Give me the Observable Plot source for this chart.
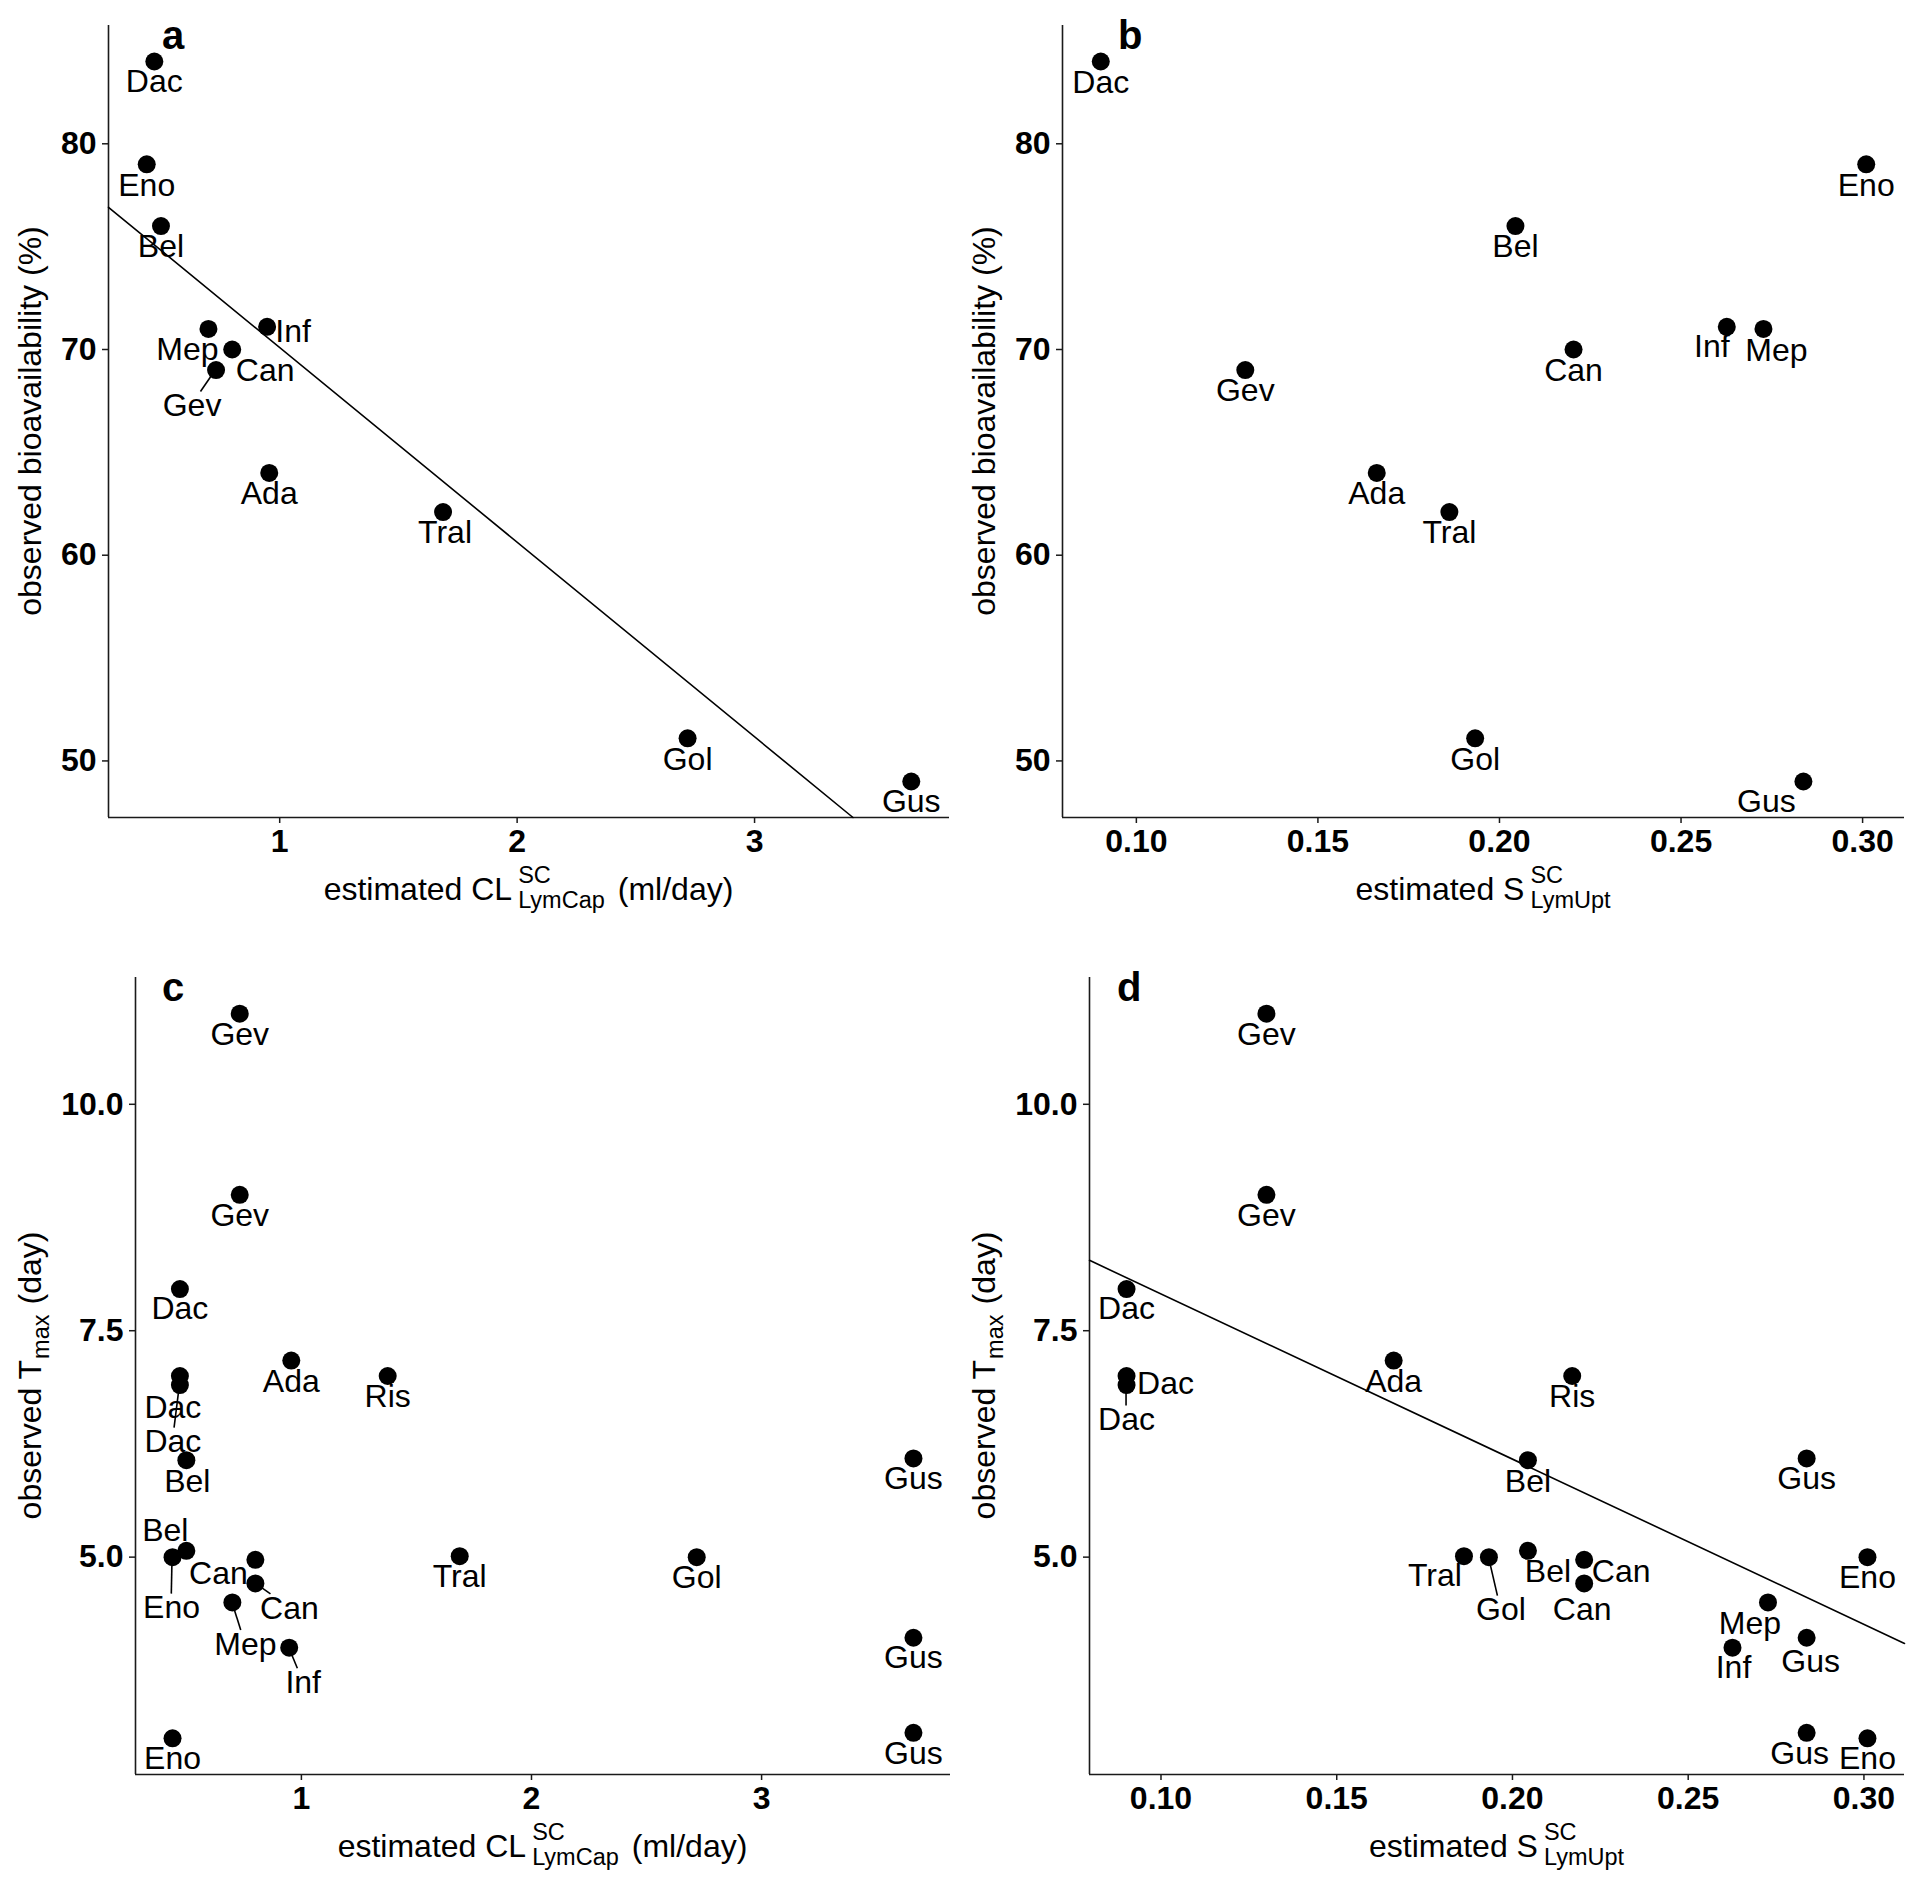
<!DOCTYPE html>
<html><head><meta charset="utf-8">
<script src="https://cdn.jsdelivr.net/npm/d3@7"></script>
<script src="https://cdn.jsdelivr.net/npm/@observablehq/plot@0.6"></script>
<style>
html,body{margin:0;padding:0;background:#fff;}
#fig{position:relative;width:1920px;height:1886px;background:#fff;overflow:hidden;}
#fig > div{position:absolute;}
#fig svg{display:block;}
g[aria-label$="tick label"]{font-weight:bold;}
</style></head><body><div id="fig"></div>
<script>
const FONT = "'Liberation Sans', Arial, Helvetica, sans-serif";

// ---- per-drug estimates ----
const drugNames = ["Ada","Bel","Can","Dac","Eno","Gev","Gol","Gus","Inf","Mep","Ris","Tral"];
const clLymCap  = [0.956, 0.50, 0.80, 0.472, 0.44, 0.732, 2.718, 3.66, 0.947, 0.70, 1.375, 1.688];
const sLymUpt   = [0.1662, 0.2044, 0.2204, 0.0902, 0.301, 0.1300, 0.1933, 0.2837, 0.2626, 0.2727, 0.2170, 0.1862];

// ---- observed bioavailability (%) ----
const bioDrugs = ["Dac","Eno","Bel","Mep","Inf","Can","Gev","Ada","Tral","Gol","Gus"];
const bioavailability = [84, 79, 76, 71, 71.1, 70, 69, 64, 62.1, 51.1, 49];

// ---- observed Tmax (day) ----
const tmaxDrugs = ["Gev","Gev","Dac","Ada","Dac","Dac","Ris","Bel","Gus","Bel","Eno","Can","Can","Tral","Gol","Mep","Inf","Gus","Eno","Gus"];
const tmaxValues = [11, 9, 7.96, 7.17, 7.0, 6.9, 7.0, 6.07, 6.09, 5.07, 5.0, 4.97, 4.71, 5.01, 5.0, 4.5, 4.0, 4.11, 3.0, 3.06];

// ---- tick values ----
const clTicks = [1, 2, 3];
const sTicks = [0.10, 0.15, 0.20, 0.25, 0.30];
const bioTicks = [50, 60, 70, 80];
const tmaxTicks = [5.0, 7.5, 10.0];

// ---- fitted line in panel d ----
const tmaxFitIntercept = 9.73;
const tmaxFitSlope = -18.24;

// ---- label nudges in px (repelled label layout): [dx, dy, hasSegment] ----
const nudgeA = [[0,20],[0,21],[0,21],[-21,21],[26,5],[33,21],[-24,36,1],[0,21],[2,21],[0,21],[0,20]];
const nudgeB = [[0,21],[0,21],[0,21],[13,22],[-15,20],[0,21],[0,21],[0,21],[0,21],[0,21],[-37,20]];
const nudgeC = [[0,21],[0,21],[0,20],[0,21],[-7,32],[-7,57,1],[0,21],[1,22],[0,20],[-21,-20],[-1,51,1],[-37,14],[34,25,1],[0,21],[0,21],[13,42,1],[14,35,1],[0,20],[0,20],[0,21]];
const nudgeD = [[0,21],[0,21],[0,20],[0,21],[39,8],[0,35,1],[0,21],[0,22],[0,20],[20,21],[0,21],[37,12],[-2,26],[-29,20],[12,53,1],[-18,21],[1,20],[4,24],[0,20],[-7,21]];

// ---- tables ----
const clOf = new Map(drugNames.map((d,i)=>[d, clLymCap[i]]));
const sOf = new Map(drugNames.map((d,i)=>[d, sLymUpt[i]]));
const bioTable = bioDrugs.map((d,i)=>({drug:d, cl:clOf.get(d), s:sOf.get(d), y:bioavailability[i]}));
const tmaxTable = tmaxDrugs.map((d,i)=>({drug:d, cl:clOf.get(d), s:sOf.get(d), y:tmaxValues[i]}));

function expand(vals){ const [a,b]=d3.extent(vals); const r=b-a; return [a-0.05*r, b+0.05*r]; }
function ols(xs, ys){
  const mx=d3.mean(xs), my=d3.mean(ys); let sxy=0, sxx=0;
  xs.forEach((x,i)=>{ sxy+=(x-mx)*(ys[i]-my); sxx+=(x-mx)*(x-mx); });
  const b=sxy/sxx; return [my-b*mx, b];
}
function fitPoints(b0, b1, xd, yd){
  let x0=xd[0], x1=xd[1];
  const xa=(yd[0]-b0)/b1, xb=(yd[1]-b0)/b1;
  const lo=Math.min(xa,xb), hi=Math.max(xa,xb);
  x0=Math.max(x0,lo); x1=Math.min(x1,hi);
  return [x0,x1].map(x=>({x, y:b0+b1*x}));
}

const LABEL_SIZE = 32, TICK_SIZE = 32, TITLE_SIZE = 32, SUB_SIZE = 23.5;
const fig = document.getElementById("fig");
const ctx = document.createElement("canvas").getContext("2d");
ctx.font = LABEL_SIZE + "px " + FONT;

function panel(cfg){
  const xd = expand(cfg.table.map(d=>d[cfg.xKey]));
  const yd = expand(cfg.table.map(d=>d.y));
  const axisCol = "#1a1a1a";
  const marks = [
    Plot.ruleX([xd[0]], {stroke:axisCol, strokeWidth:1.6}),
    Plot.ruleY([yd[0]], {stroke:axisCol, strokeWidth:1.6}),
    Plot.axisX(cfg.xTicks, {tickFormat:cfg.xFormat, tickSize:6, tickPadding:6, label:null, fontSize:TICK_SIZE, fontWeight:"bold", stroke:axisCol, strokeWidth:1.5, fill:"black"}),
    Plot.axisY(cfg.yTicks, {tickFormat:cfg.yFormat, tickSize:6, tickPadding:6, label:null, fontSize:TICK_SIZE, fontWeight:"bold", stroke:axisCol, strokeWidth:1.5, fill:"black"})
  ];
  if (cfg.fit){
    const [b0,b1] = cfg.fit;
    marks.push(Plot.line(fitPoints(b0,b1,xd,yd), {x:"x", y:"y", stroke:"black", strokeWidth:1.6}));
  }
  marks.push(Plot.dot(cfg.table, {x:cfg.xKey, y:"y", r:9, fill:"black"}));
  cfg.table.forEach((d,i)=>{
    const [dx,dy] = cfg.nudges[i];
    marks.push(Plot.text([d], {x:cfg.xKey, y:"y", text:"drug", dx, dy, fontSize:LABEL_SIZE, fill:"black"}));
  });
  const plot = Plot.plot({
    width:960, height:943,
    marginLeft:cfg.m[0], marginRight:cfg.m[1], marginTop:cfg.m[2], marginBottom:cfg.m[3],
    x:{domain:xd}, y:{domain:yd},
    style:{fontFamily:FONT, fontSize:"31px", color:"black", background:"white", overflow:"visible"},
    marks
  });
  const holder = document.createElement("div");
  holder.style.left = cfg.left+"px"; holder.style.top = cfg.top+"px";
  holder.appendChild(plot); fig.appendChild(holder);
  const svg = d3.select(plot);
  const sx = plot.scale("x"), sy = plot.scale("y");

  // connector segments for displaced labels
  const segG = svg.append("g").attr("stroke","black").attr("stroke-width",1.6);
  cfg.table.forEach((d,i)=>{
    const n = cfg.nudges[i]; if (!n[2]) return;
    const px = sx.apply(d[cfg.xKey]), py = sy.apply(d.y);
    const cx = px+n[0], cy = py+n[1]-1;
    const hw = ctx.measureText(d.drug).width/2+2, hh = 13;
    const vx = px-cx, vy = py-cy;
    const t = Math.min(hw/Math.max(Math.abs(vx),1e-6), hh/Math.max(Math.abs(vy),1e-6));
    segG.append("line").attr("x1",px).attr("y1",py).attr("x2",cx+vx*t).attr("y2",cy+vy*t);
  });

  // panel letter
  svg.append("text").attr("x",cfg.letterPos[0]).attr("y",cfg.letterPos[1]).attr("text-anchor","start")
    .attr("font-family",FONT).attr("font-size",40).attr("font-weight","bold").attr("fill","black").text(cfg.letter);

  // x title with stacked super/subscript
  const plotCx = cfg.m[0] + (960-cfg.m[0]-cfg.m[1])/2;
  const plotCy = cfg.m[2] + (943-cfg.m[2]-cfg.m[3])/2;
  const xt = cfg.xTitle;
  const gx = svg.append("g").attr("font-family",FONT).attr("fill","black").attr("text-anchor","start");
  const t1 = gx.append("text").attr("font-size",TITLE_SIZE).text(xt.main);
  const w1 = t1.node().getComputedTextLength();
  const ts = gx.append("text").attr("font-size",SUB_SIZE).text(xt.sup);
  const tb = gx.append("text").attr("font-size",SUB_SIZE).text(xt.sub);
  const ws = Math.max(ts.node().getComputedTextLength(), tb.node().getComputedTextLength());
  let t3 = null, w3 = 0;
  if (xt.tail){ t3 = gx.append("text").attr("font-size",TITLE_SIZE).text(xt.tail); w3 = t3.node().getComputedTextLength(); }
  const gap1 = 6, gap2 = 13;
  const total = w1 + gap1 + ws + (t3 ? gap2 + w3 : 0);
  const x0 = plotCx - total/2, base = cfg.xTitleY;
  t1.attr("x",x0).attr("y",base);
  ts.attr("x",x0+w1+gap1).attr("y",base-17);
  tb.attr("x",x0+w1+gap1).attr("y",base+8);
  if (t3) t3.attr("x",x0+w1+gap1+ws+gap2).attr("y",base);

  // y title (rotated)
  const yt = cfg.yTitle;
  const gy = svg.append("g").attr("font-family",FONT).attr("fill","black").attr("text-anchor","start")
    .attr("transform",`translate(${cfg.yTitleX},${plotCy}) rotate(-90)`);
  const y1 = gy.append("text").attr("font-size",TITLE_SIZE).text(yt.main);
  const wy1 = y1.node().getComputedTextLength();
  if (yt.sub){
    const ysb = gy.append("text").attr("font-size",SUB_SIZE).text(yt.sub);
    const wsb = ysb.node().getComputedTextLength();
    const y3 = gy.append("text").attr("font-size",TITLE_SIZE).text(yt.tail);
    const wy3 = y3.node().getComputedTextLength();
    const tot = wy1 + 1 + wsb + 10 + wy3;
    const s0 = -tot/2;
    y1.attr("x",s0).attr("y",0);
    ysb.attr("x",s0+wy1+1).attr("y",8);
    y3.attr("x",s0+wy1+1+wsb+10).attr("y",0);
  } else {
    y1.attr("x",-wy1/2).attr("y",0);
  }
}

const fmtInt = d3.format("d"), fmt2 = d3.format(".2f"), fmt1 = d3.format(".1f");
const bioFit = ols(bioTable.map(d=>d.cl), bioTable.map(d=>d.y));
const clTitle = {main:"estimated CL", sup:"SC", sub:"LymCap", tail:"(ml/day)"};
const sTitle = {main:"estimated S", sup:"SC", sub:"LymUpt", tail:null};
const bioYTitle = {main:"observed bioavailability (%)"};
const tmaxYTitle = {main:"observed T", sub:"max", tail:"(day)"};

panel({left:0, top:0, m:[108,11,25,126], table:bioTable, xKey:"cl", xTicks:clTicks, xFormat:fmtInt,
  yTicks:bioTicks, yFormat:fmtInt, nudges:nudgeA, fit:bioFit, letter:"a", letterPos:[162,49],
  xTitle:clTitle, xTitleY:900, yTitle:bioYTitle, yTitleX:41});
panel({left:960, top:0, m:[102,16,25,126], table:bioTable, xKey:"s", xTicks:sTicks, xFormat:fmt2,
  yTicks:bioTicks, yFormat:fmtInt, nudges:nudgeB, fit:null, letter:"b", letterPos:[158,49],
  xTitle:sTitle, xTitleY:900, yTitle:bioYTitle, yTitleX:35});
panel({left:0, top:943, m:[135,10,34,112], table:tmaxTable, xKey:"cl", xTicks:clTicks, xFormat:fmtInt,
  yTicks:tmaxTicks, yFormat:fmt1, nudges:nudgeC, fit:null, letter:"c", letterPos:[162,58],
  xTitle:clTitle, xTitleY:914, yTitle:tmaxYTitle, yTitleX:41});
panel({left:960, top:943, m:[129,16,34,112], table:tmaxTable, xKey:"s", xTicks:sTicks, xFormat:fmt2,
  yTicks:tmaxTicks, yFormat:fmt1, nudges:nudgeD, fit:[tmaxFitIntercept, tmaxFitSlope], letter:"d", letterPos:[157,58],
  xTitle:sTitle, xTitleY:914, yTitle:tmaxYTitle, yTitleX:35});
</script></body></html>
